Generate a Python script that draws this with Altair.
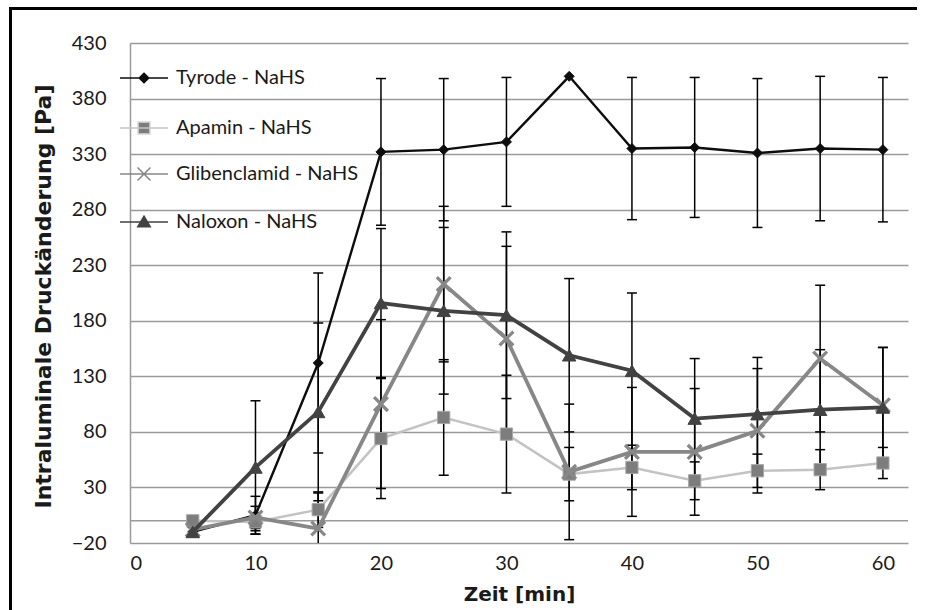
import altair as alt
import pandas as pd

# ---------------- data ----------------
times = [5, 10, 15, 20, 25, 30, 35, 40, 45, 50, 55, 60]
series_names = ["Tyrode - NaHS", "Apamin - NaHS", "Glibenclamid - NaHS", "Naloxon - NaHS"]

tyrode = [-10, 5, 142, 332, 334, 341, 400, 335, 336, 331, 335, 334]
tyrode_err = [4, 17, 81, 66, 64, 58, 0, 64, 63, 67, 65, 65]

apamin = [0, -1, 10, 74, 93, 78, 42, 48, 36, 45, 46, 52]
apamin_err = [4, 8, 16, 54, 52, 53, 24, 20, 17, 15, 18, 14]

glibenclamid = [-8, 3, -7, 105, 213, 164, 44, 62, 62, 81, 146, 104]
glibenclamid_err = [4, 10, 32, 76, 70, 83, 61, 58, 57, 56, 66, 52]

naloxon = [-10, 48, 98, 196, 189, 185, 149, 135, 92, 96, 100, 102]
naloxon_err = [4, 60, 80, 67, 75, 75, 69, 70, 54, 51, 54, 54]

x_ticks = [0, 10, 20, 30, 40, 50, 60]
y_ticks = [-20, 30, 80, 130, 180, 230, 280, 330, 380, 430]
zero_line = [0]

# ---------------- build table ----------------
rows = []
for name, vals, errs in zip(series_names,
                            [tyrode, apamin, glibenclamid, naloxon],
                            [tyrode_err, apamin_err, glibenclamid_err, naloxon_err]):
    for t, v, e in zip(times, vals, errs):
        rows.append({"series": name, "t": t, "v": v, "err": e, "lo": v - e, "hi": v + e})
df = pd.DataFrame(rows)

# ---------------- styles ----------------
line_colors = ["#0d0d0d", "#c3c3c3", "#878787", "#424242"]
line_widths = [2.4, 2.5, 3.8, 3.8]
X_PATH = "M-1,-1L1,1M-1,1L1,-1"
marker_styles = [
    ("diamond", "#0d0d0d", "#0d0d0d", 100, 1),
    ("square", "#7d7d7d", "#a8a8a8", 150, 1),
    (X_PATH, "transparent", "#878787", 190, 3.2),
    ("triangle-up", "#424242", "#424242", 180, 1),
]
legend_paths = [
    "M-1,0L1,0M0,-0.2L0.2,0L0,0.2L-0.2,0Z",
    "M-1,0L1,0M-0.24,-0.24L0.24,-0.24L0.24,0.24L-0.24,0.24Z",
    "M-1,0L1,0M-0.27,-0.27L0.27,0.27M-0.27,0.27L0.27,-0.27",
    "M-1,0L1,0M0,-0.24L0.26,0.2L-0.26,0.2Z",
]
legend_fills = ["#0d0d0d", "#7d7d7d", "transparent", "#424242"]
legend_widths = [2.4, 2.5, 3, 3]
legend_rows_y = [10, 60, 106, 154]

GRID = "#9a9a9a"
TXT = "#1a1a1a"

x_scale = alt.Scale(domain=[0, 62], nice=False, zero=False)
y_scale = alt.Scale(domain=[-20, 430], nice=False, zero=False)
x_axis = alt.Axis(
    values=x_ticks, title="Zeit [min]", grid=False, domain=False, ticks=False,
    labelFont="Lato", labelFontSize=20, labelColor=TXT, labelPadding=10,
    titleFont="DejaVu Sans", titleFontSize=20, titleFontWeight="bold", titleColor=TXT,
    titleX=389, titleY=57, titleBaseline="alphabetic", titleAlign="center",
)
y_axis = alt.Axis(
    values=y_ticks, title="Intraluminale Druckänderung [Pa]",
    grid=True, gridColor=GRID, gridWidth=1.5,
    domain=True, domainColor=GRID, domainWidth=1.5, ticks=False,
    labelFont="Lato", labelFontSize=20, labelColor=TXT, labelPadding=24,
    titleFont="DejaVu Sans", titleFontSize=22, titleFontWeight="bold", titleColor=TXT,
    titleX=-80, titleY=253, titleAngle=270, titleBaseline="alphabetic", titleAlign="center",
)


def X(field="t"):
    return alt.X(f"{field}:Q", scale=x_scale, axis=x_axis)


def Y(field="v"):
    return alt.Y(f"{field}:Q", scale=y_scale, axis=y_axis)


base = alt.Chart(df)

zero = alt.Chart(alt.Data(values=[{"z": z} for z in zero_line])).mark_rule(
    color=GRID, strokeWidth=1.5
).encode(y=Y("z"))

# legend-only layers (no rows): one single-entry legend per series
legend_layers = []
for i, name in enumerate(series_names):
    lg = alt.Legend(
        title=None, orient="none", legendX=-11, legendY=legend_rows_y[i], padding=0,
        symbolSize=2304, labelFont="Lato", labelFontSize=20, labelColor=TXT,
        labelOffset=7, labelLimit=400, symbolOpacity=1,
    )
    legend_layers.append(
        base.transform_filter("false").mark_point(
            fill=legend_fills[i], stroke=line_colors[i], strokeWidth=legend_widths[i], opacity=1, filled=False
        ).encode(
            x=X(), y=Y(),
            shape=alt.Shape("series:N", scale=alt.Scale(domain=[name], range=[legend_paths[i]]), legend=lg),
        )
    )

err_df = base.transform_filter("datum.err > 0")
err_rule = err_df.mark_rule(color="black", strokeWidth=1.5, clip=True).encode(
    x=X(), y=Y("lo"), y2="hi:Q"
)
cap_lo = err_df.mark_tick(color="black", orient="horizontal", size=10, thickness=1.5, clip=True, opacity=1).encode(
    x=X(), y=Y("lo")
)
cap_hi = err_df.mark_tick(color="black", orient="horizontal", size=10, thickness=1.5, clip=True, opacity=1).encode(
    x=X(), y=Y("hi")
)

series_layers = []
for i, name in enumerate(series_names):
    sub = base.transform_filter(alt.datum.series == name)
    shape, fill, stroke, size, sw = marker_styles[i]
    series_layers.append(
        sub.mark_line(color=line_colors[i], strokeWidth=line_widths[i]).encode(x=X(), y=Y())
    )
    series_layers.append(
        sub.mark_point(
            shape=shape, fill=fill, stroke=stroke, size=size, strokeWidth=sw, opacity=1, filled=False
        ).encode(x=X(), y=Y())
    )

# outer frame of the picture: left edge and top edge only
frame_data = alt.Data(values=[{"k": 1}])
frame_left = alt.Chart(frame_data).mark_rule(color="black", strokeWidth=3).encode(
    x=alt.value(-119.5), y=alt.value(-36), y2=alt.value(567)
)
frame_top = alt.Chart(frame_data).mark_rule(color="black", strokeWidth=3).encode(
    x=alt.value(-121), x2=alt.value(787), y=alt.value(-34.5)
)

chart = alt.layer(
    zero, *legend_layers, err_rule, cap_lo, cap_hi, *series_layers, frame_left, frame_top
).resolve_scale(
    shape="independent"
).resolve_legend(
    shape="independent"
).properties(
    width=778, height=500,
    autosize=alt.AutoSizeParams(type="none"),
    padding={"left": 130, "top": 43, "right": 17, "bottom": 67},
    background="white",
).configure_view(stroke=None)

chart.save("out.html", embed_options={"renderer": "svg", "actions": False})
